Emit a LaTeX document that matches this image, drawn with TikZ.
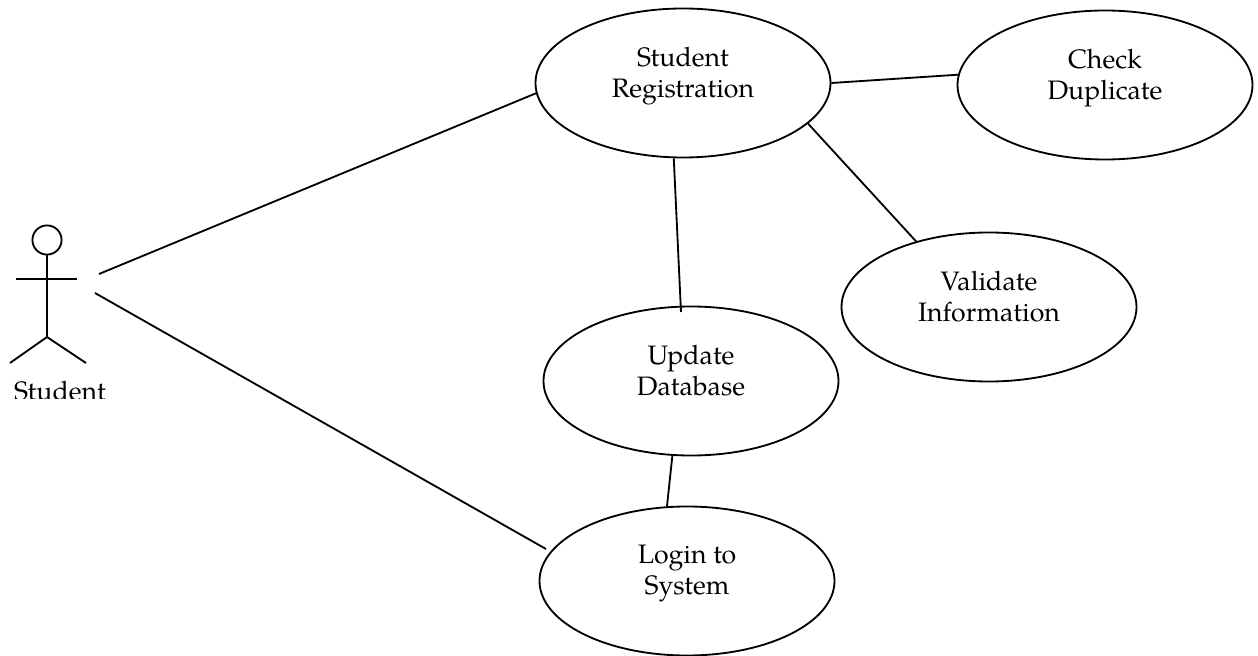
\documentclass[tikz,border=0pt]{standalone}
\usepackage{fontspec}
\setmainfont{TeX Gyre Pagella}
\usetikzlibrary{shapes.geometric}
\newdimen\pxu
\pxu=0.6pt
\tikzset{
  usecase/.style={ellipse, draw, line width=1.1pt, minimum width=295\pxu, minimum height=149\pxu, inner sep=0pt, align=center, text depth=13.4pt, font=\fontsize{16}{18.6}\selectfont},
  link/.style={line width=1.1pt},
}
\begin{document}
\begin{tikzpicture}[x=0.6pt,y=-0.6pt]
  \useasboundingbox (0,0) rectangle (1258,656);

  % Define nodes
  \node[usecase] (reg) at (683,83) {Student\\Registration};
  \node[usecase] (dup) at (1105,85) {Check\\Duplicate};
  \node[usecase] (val) at (989,307) {Validate\\Information};
  \node[usecase] (upd) at (691,381) {Update\\Database};
  \node[usecase] (log) at (687,581) {Login to\\System};

  % Actor
  \node[circle, draw, line width=1.1pt, minimum size=17.5pt, inner sep=0pt] (head) at (47,240) {};
  \coordinate (hip) at (47,337);
  \coordinate (armL) at (16,279);
  \coordinate (armR) at (77,279);
  \coordinate (legL) at (10,363);
  \coordinate (legR) at (86,363);
  \draw[link] (head) -- (hip);
  \draw[link] (armL) -- (armR);
  \draw[link] (legL) -- (hip) -- (legR);
  \begin{scope}
    \clip (0,370) rectangle (140,399);
    \node[anchor=base, font=\fontsize{16}{18.6}\selectfont] (student) at (60,401) {Student};
  \end{scope}

  % Free ends
  \coordinate (a1) at (99,274);
  \coordinate (a2) at (95,293);
  \coordinate (a3) at (546,549);
  \coordinate (a4) at (681,312);

  % Connect the nodes
  \draw[link] (a1) -- (reg.184);
  \draw[link] (a2) -- (a3);
  \draw[link] (reg.0) -- (dup.176);
  \draw[link] (reg.-18) -- (val.138);
  \draw[link] (reg.263) -- (a4);
  \draw[link] (upd.256) -- (log.105);

\end{tikzpicture}
\end{document}
